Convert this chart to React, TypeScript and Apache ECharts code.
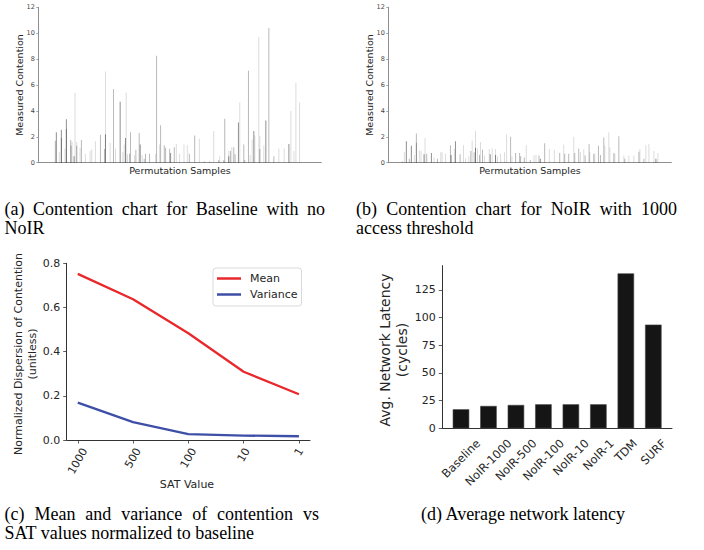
import { useEffect, useRef } from 'react';
import * as echarts from 'echarts';

// ---------- (a) Baseline contention samples ----------
const baselineSamplePos = [
  51, 54, 63, 69, 69, 80, 84, 84, 97, 98,
  101, 107, 110, 115, 115, 125, 129, 141, 155, 160,
  171, 186, 198, 201, 201, 215, 225, 231, 245, 253,
  257, 261, 263, 267, 273, 276, 288, 292, 302, 305,
  311, 317, 321, 333, 351, 354, 363, 366, 377, 381,
  393, 396, 407, 413, 423, 436, 446, 452, 468, 482,
  497, 513, 525, 540, 543, 555, 558, 570, 570, 575,
  579, 585, 589, 599, 603, 615, 618, 629, 634, 640,
  645, 648, 660, 663, 663, 675, 681, 690, 705, 720,
  736, 750, 756, 765, 771, 782,
];
const baselineContention = [
  1.7, 2.35, 0.8, 2.55, 1.9, 1.1, 3.35, 2.6, 1.75, 1.3,
  1.6, 0.5, 5.4, 1.6, 1.3, 1.15, 1.75, 0.7, 0.9, 1.05,
  1.65, 2.15, 1.05, 7.05, 2.2, 1.55, 5.7, 1.1, 4.7, 0.8,
  1.4, 1.9, 5.4, 0.65, 0.7, 2.35, 0.6, 1.0, 2.3, 1.4,
  0.6, 0.3, 0.7, 0.7, 0.7, 8.25, 1.4, 2.9, 1.35, 1.15,
  1.05, 0.75, 1.2, 1.45, 0.7, 1.4, 1.35, 0.7, 2.1, 1.85,
  0.1, 0.1, 2.45, 0.2, 0.5, 0.2, 3.4, 0.5, 0.95, 0.9,
  1.2, 1.2, 0.65, 3.1, 4.65, 1.4, 0.2, 7.1, 0.6, 1.8,
  2.45, 2.1, 9.7, 2.05, 1.05, 1.35, 3.25, 10.4, 0.5, 1.1,
  1.1, 1.45, 4.0, 0.9, 6.2, 4.65,
];
const baselineShade = [
  1, 2, 0, 2, 1, 0, 2, 1, 1, 1,
  0, 2, 0, 0, 1, 0, 1, 0, 0, 0,
  0, 1, 1, 0, 2, 0, 1, 0, 2, 0,
  0, 2, 0, 0, 1, 1, 0, 1, 1, 2,
  0, 1, 1, 1, 0, 1, 0, 1, 1, 1,
  1, 2, 1, 0, 0, 0, 0, 1, 1, 0,
  1, 1, 0, 1, 0, 1, 1, 2, 0, 1,
  0, 1, 1, 2, 0, 1, 1, 1, 0, 0,
  2, 0, 0, 0, 1, 0, 2, 1, 1, 0,
  0, 2, 0, 0, 0, 0,
];

// ---------- (b) NoIR (1000 access threshold) contention samples ----------
const noirSamplePos = [
  42, 48, 54, 63, 69, 78, 84, 84, 93, 98,
  107, 110, 115, 129, 137, 147, 157, 161, 171, 186,
  188, 198, 201, 215, 225, 231, 241, 247, 251, 257,
  261, 261, 267, 273, 276, 282, 288, 302, 305, 311,
  321, 321, 327, 336, 348, 354, 366, 370, 381, 393,
  396, 407, 413, 425, 436, 442, 451, 455, 468, 482,
  497, 513, 525, 528, 540, 555, 558, 570, 575, 585,
  589, 601, 603, 615, 618, 629, 635, 645, 648, 660,
  663, 675, 678, 690, 705, 708, 720, 735, 750, 753,
  765, 771, 780, 795, 801, 807,
];
const noirContention = [
  0.1, 0.85, 1.65, 0.3, 1.3, 0.6, 2.25, 1.55, 0.95, 0.9,
  0.65, 1.9, 0.7, 0.75, 0.4, 0.3, 0.8, 0.8, 0.7, 1.35,
  0.6, 1.05, 1.65, 0.65, 1.35, 0.35, 0.5, 0.9, 1.7, 0.8,
  2.45, 1.15, 1.1, 0.6, 1.6, 1.0, 0.55, 1.05, 0.65, 1.1,
  1.05, 0.6, 0.5, 0.7, 0.8, 2.2, 2.0, 0.5, 0.75, 0.75,
  0.5, 0.4, 1.35, 0.2, 0.6, 0.6, 0.55, 0.3, 1.5, 1.05,
  1.0, 0.75, 1.4, 0.7, 0.7, 2.0, 0.75, 1.1, 0.8, 1.05,
  0.55, 1.45, 0.8, 0.7, 0.7, 1.3, 0.6, 1.95, 1.3, 2.35,
  1.2, 0.75, 0.7, 2.05, 0.55, 0.3, 0.55, 0.55, 0.85, 1.05,
  0.3, 1.35, 1.45, 0.9, 0.3, 0.75,
];
const noirShade = [
  1, 0, 2, 1, 2, 0, 1, 1, 0, 0,
  2, 0, 1, 2, 0, 1, 0, 0, 0, 1,
  2, 0, 2, 1, 0, 0, 0, 1, 0, 1,
  0, 2, 0, 1, 0, 1, 0, 0, 2, 0,
  0, 2, 0, 0, 0, 0, 1, 0, 1, 1,
  1, 1, 0, 1, 0, 0, 1, 2, 1, 0,
  0, 1, 0, 1, 1, 0, 1, 1, 0, 0,
  1, 1, 0, 1, 0, 1, 1, 1, 0, 0,
  0, 1, 0, 1, 0, 1, 0, 0, 1, 0,
  1, 0, 0, 0, 2, 0,
];
const contentionTicks = [0, 2, 4, 6, 8, 10, 12];

// ---------- (c) Mean / variance vs SAT ----------
const satCategories = ['1000', '500', '100', '10', '1'];
const meanValues = [0.752, 0.637, 0.483, 0.309, 0.207];
const varianceValues = [0.169, 0.081, 0.027, 0.02, 0.017];
const dispersionTicks = [0, 0.2, 0.4, 0.6, 0.8];

// ---------- (d) Average network latency ----------
const latencyCategories = ['Baseline', 'NoIR-1000', 'NoIR-500', 'NoIR-100', 'NoIR-10', 'NoIR-1', 'TDM', 'SURF'];
const latencyValues = [17.2, 20.2, 21.1, 21.7, 21.7, 21.7, 140, 93.7];
const latencyTicks = [0, 25, 50, 75, 100, 125];

const SANS = '"DejaVu Sans", sans-serif';
const SERIF = '"Liberation Serif", "Times New Roman", serif';
const TEXT = '#262626';
const SPINE = '#333333';
const LIGHT_SPINE = '#8f8f8f';
const MEAN_COLOR = '#e8282b';
const VAR_COLOR = '#3d4fa6';
const SHADE_COLORS = ['rgba(0,0,0,0.14)', 'rgba(0,0,0,0.28)', 'rgba(0,0,0,0.44)'];
const CAPTION_SIZE = 18;

let measureCtx: CanvasRenderingContext2D | null = null;
function textWidth(text: string, font: string): number {
  if (!measureCtx) measureCtx = document.createElement('canvas').getContext('2d');
  if (!measureCtx) return text.length * 6;
  measureCtx.font = font;
  return measureCtx.measureText(text).width;
}

// rich styles that place rotated labels with their bounding box centred under the tick
function centredRotatedRich(labels: string[], fontSize: number, deg: number) {
  const r = (deg * Math.PI) / 180;
  const s = Math.sin(r);
  const c = Math.cos(r);
  const rich: Record<string, any> = {};
  labels.forEach((t, i) => {
    const L = textWidth(t, `${fontSize}px "DejaVu Sans"`);
    rich['t' + i] = {
      fontSize,
      fontFamily: SANS,
      color: TEXT,
      padding: [L * c * s, L * s * s, 0, 0],
    };
  });
  return rich;
}

function txt(text: string, x: number, y: number, fontSize: number, opts: any = {}) {
  const align = opts.align || 'center';
  return {
    type: 'text',
    x,
    y,
    rotation: opts.rotation || 0,
    silent: true,
    style: {
      text,
      fontSize,
      fontFamily: opts.fontFamily || SANS,
      fill: opts.fill || TEXT,
      align,
      verticalAlign: 'middle',
      textAlign: align,
      textVerticalAlign: 'middle',
    },
  };
}

function justifiedLine(text: string, x0: number, x1: number, y: number, fontSize: number) {
  const font = `${fontSize}px "Liberation Serif"`;
  const words = text.split(' ');
  const widths = words.map((w) => textWidth(w, font));
  const total = widths.reduce((a, b) => a + b, 0);
  const gap = words.length > 1 ? (x1 - x0 - total) / (words.length - 1) : 0;
  let x = x0;
  return words.map((w, i) => {
    const el = txt(w, x, y, fontSize, { align: 'left', fontFamily: SERIF, fill: '#000' });
    x += widths[i] + gap;
    return el;
  });
}

const renderStick = (_params: any, api: any) => {
  const x = api.value(0);
  const v = api.value(1);
  const shade = api.value(2);
  const base = api.coord([x, 0]);
  const top = api.coord([x, v]);
  return {
    type: 'rect',
    shape: { x: base[0] - 0.5, y: top[1], width: 1, height: base[1] - top[1] },
    style: { fill: SHADE_COLORS[shade] || SHADE_COLORS[1] },
  };
};

function contentionAxes(gridIndex: number) {
  const x = {
    gridIndex,
    type: 'value',
    min: 0,
    max: 847,
    axisLine: { show: true, onZero: false, lineStyle: { color: LIGHT_SPINE, width: 1 } },
    axisTick: { show: false },
    axisLabel: { show: false },
    splitLine: { show: false },
  };
  const y = {
    gridIndex,
    type: 'value',
    min: 0,
    max: 12,
    axisLine: { show: true, onZero: false, lineStyle: { color: LIGHT_SPINE, width: 1 } },
    axisTick: { show: true, customValues: contentionTicks, length: 2, lineStyle: { color: LIGHT_SPINE, width: 0.8 } },
    axisLabel: { customValues: contentionTicks, fontSize: 6.5, color: '#444', fontFamily: SANS, margin: 3.5 },
    splitLine: { show: false },
  };
  return { x, y };
}

export default function App() {
  const ref = useRef<HTMLDivElement>(null);

  useEffect(() => {
    document.body.style.margin = '0';
    if (!ref.current) return;
    const chart = echarts.init(ref.current, undefined, { renderer: 'svg' });

    const a = contentionAxes(0);
    const b = contentionAxes(1);
    const satRich = centredRotatedRich(satCategories, 11, 60);
    const latRich = centredRotatedRich(latencyCategories, 11.5, 45);
    const serifLeft = { align: 'left', fontFamily: SERIF, fill: '#000' };

    const graphics: any[] = [
      // panel titles
      txt('Measured Contention', 19, 85, 9.5, { rotation: Math.PI / 2 }),
      txt('Permutation Samples', 180, 170, 9.5),
      txt('Measured Contention', 369, 85, 9.5, { rotation: Math.PI / 2 }),
      txt('Permutation Samples', 530, 170, 9.5),
      txt('Normalized Dispersion of Contention', 18, 354, 11, { rotation: Math.PI / 2 }),
      txt('(unitless)', 32, 354, 11, { rotation: Math.PI / 2 }),
      txt('SAT Value', 187, 484, 11),
      txt('Avg. Network Latency', 385, 350, 14, { rotation: Math.PI / 2 }),
      txt('(cycles)', 402, 350, 14, { rotation: Math.PI / 2 }),
      // captions
      ...justifiedLine('(a) Contention chart for Baseline with no', 4.5, 325, 208.5, CAPTION_SIZE),
      txt('NoIR', 4.5, 228, CAPTION_SIZE, serifLeft),
      ...justifiedLine('(b) Contention chart for NoIR with 1000', 356, 677, 208.5, CAPTION_SIZE),
      txt('access threshold', 356, 228, CAPTION_SIZE, serifLeft),
      ...justifiedLine('(c) Mean and variance of contention vs', 4.5, 319, 513.5, CAPTION_SIZE),
      txt('SAT values normalized to baseline', 4.5, 533, CAPTION_SIZE, serifLeft),
      txt('(d) Average network latency', 523, 513.5, CAPTION_SIZE, { fontFamily: SERIF, fill: '#000' }),
    ];

    const option: any = {
      animation: false,
      backgroundColor: '#ffffff',
      textStyle: { fontFamily: SANS },
      grid: [
        { left: 38.3, top: 7.3, width: 283, height: 155.4, outerBoundsMode: 'none' },
        { left: 388.3, top: 7.3, width: 283, height: 155.4, outerBoundsMode: 'none' },
        { left: 66.7, top: 263.3, width: 243.3, height: 176.7, outerBoundsMode: 'none' },
        { left: 442.3, top: 265.6, width: 229.7, height: 162.7, outerBoundsMode: 'none' },
      ],
      legend: {
        data: ['Mean', 'Variance'],
        orient: 'vertical',
        left: 213,
        top: 268,
        icon: 'rect',
        itemWidth: 24,
        itemHeight: 2.5,
        itemGap: 3,
        padding: [4, 4, 5, 4],
        backgroundColor: '#ffffff',
        borderColor: '#d9d9d9',
        borderWidth: 1,
        borderRadius: 3,
        textStyle: { fontSize: 11, color: TEXT, fontFamily: SANS, padding: [0, 0, 0, 4], lineHeight: 13 },
      },
      xAxis: [
        a.x,
        b.x,
        {
          gridIndex: 2,
          type: 'value',
          min: -0.2,
          max: 4.2,
          axisLine: { show: true, onZero: false, lineStyle: { color: SPINE, width: 1 } },
          axisTick: { show: true, customValues: [0, 1, 2, 3, 4], length: 3.5, lineStyle: { color: SPINE, width: 0.8 } },
          axisLabel: {
            customValues: [0, 1, 2, 3, 4],
            rotate: 60,
            align: 'center',
            verticalAlign: 'middle',
            margin: 9,
            fontSize: 11,
            color: TEXT,
            fontFamily: SANS,
            formatter: (v: number) => {
              const i = Math.round(v);
              return `{t${i}|${satCategories[i]}}`;
            },
            rich: satRich,
          },
          splitLine: { show: false },
        },
        {
          gridIndex: 3,
          type: 'value',
          min: -0.68,
          max: 7.68,
          axisLine: { show: true, onZero: false, lineStyle: { color: SPINE, width: 1 } },
          axisTick: { show: false },
          axisLabel: {
            customValues: [0, 1, 2, 3, 4, 5, 6, 7],
            rotate: 45,
            align: 'center',
            verticalAlign: 'middle',
            margin: 13,
            fontSize: 11.5,
            color: TEXT,
            fontFamily: SANS,
            formatter: (v: number) => {
              const i = Math.round(v);
              return `{t${i}|${latencyCategories[i]}}`;
            },
            rich: latRich,
          },
          splitLine: { show: false },
        },
      ],
      yAxis: [
        a.y,
        b.y,
        {
          gridIndex: 2,
          type: 'value',
          min: 0,
          max: 0.8,
          axisLine: { show: true, onZero: false, lineStyle: { color: SPINE, width: 1 } },
          axisTick: { show: true, customValues: dispersionTicks, length: 3.5, lineStyle: { color: SPINE, width: 0.8 } },
          axisLabel: {
            customValues: dispersionTicks,
            fontSize: 11,
            color: TEXT,
            fontFamily: SANS,
            margin: 6.5,
            formatter: (v: number) => v.toFixed(1),
          },
          splitLine: { show: false },
        },
        {
          gridIndex: 3,
          type: 'value',
          min: 0,
          max: 147,
          axisLine: { show: true, onZero: false, lineStyle: { color: SPINE, width: 1 } },
          axisTick: { show: true, customValues: latencyTicks, length: 3.5, lineStyle: { color: SPINE, width: 0.8 } },
          axisLabel: { customValues: latencyTicks, fontSize: 11, color: TEXT, fontFamily: SANS, margin: 6.5 },
          splitLine: { show: false },
        },
      ],
      series: [
        {
          type: 'custom',
          name: 'Baseline contention',
          xAxisIndex: 0,
          yAxisIndex: 0,
          encode: { x: 0, y: 1 },
          data: baselineSamplePos.map((p, i) => [p, baselineContention[i], baselineShade[i]]),
          renderItem: renderStick,
          silent: true,
        },
        {
          type: 'custom',
          name: 'NoIR contention',
          xAxisIndex: 1,
          yAxisIndex: 1,
          encode: { x: 0, y: 1 },
          data: noirSamplePos.map((p, i) => [p, noirContention[i], noirShade[i]]),
          renderItem: renderStick,
          silent: true,
        },
        {
          type: 'line',
          name: 'Mean',
          xAxisIndex: 2,
          yAxisIndex: 2,
          data: meanValues.map((v, i) => [i, v]),
          symbol: 'none',
          lineStyle: { color: MEAN_COLOR, width: 2.3 },
          itemStyle: { color: MEAN_COLOR },
        },
        {
          type: 'line',
          name: 'Variance',
          xAxisIndex: 2,
          yAxisIndex: 2,
          data: varianceValues.map((v, i) => [i, v]),
          symbol: 'none',
          lineStyle: { color: VAR_COLOR, width: 2.3 },
          itemStyle: { color: VAR_COLOR },
        },
        {
          type: 'bar',
          name: 'Latency',
          xAxisIndex: 3,
          yAxisIndex: 3,
          data: latencyValues.map((v, i) => [i, v]),
          barWidth: 16.5,
          itemStyle: { color: '#151515', borderColor: '#444444', borderWidth: 0.6 },
        },
      ],
      graphic: { elements: graphics },
    };

    chart.setOption(option);
    return () => chart.dispose();
  }, []);

  return <div ref={ref} style={{ width: 704, height: 550 }} />;
}
